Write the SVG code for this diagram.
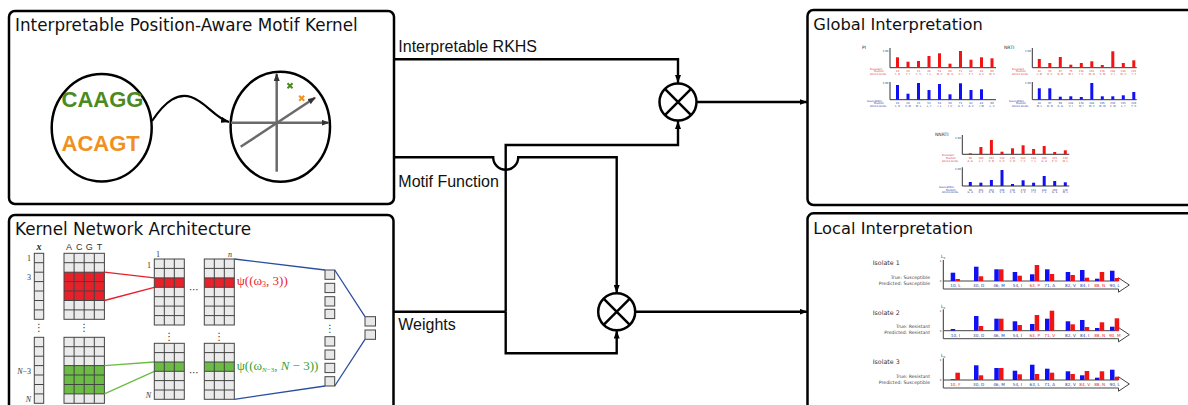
<svg xmlns="http://www.w3.org/2000/svg" width="1188" height="405" viewBox="0 0 1188 405">
<style>
.box{fill:#fff;stroke:#000;stroke-width:2.5}
.title{font-family:"DejaVu Sans",sans-serif;font-size:16.8px;fill:#111}
.title2{font-family:"DejaVu Sans",sans-serif;font-size:16.3px;fill:#111}
.lbl{font-family:"Liberation Sans",Arial,sans-serif;font-size:16px;fill:#111}
.conn{fill:none;stroke:#000;stroke-width:2.4}
.mfill{fill:#ebebeb}
.grid{fill:none;stroke:#444;stroke-width:1}
.sq{fill:#e8e8e8;stroke:#444;stroke-width:1}
.ser{font-family:"Liberation Serif","DejaVu Serif",serif;font-size:8px;fill:#333}
.seri{font-family:"Liberation Serif","DejaVu Serif",serif;font-size:8px;font-style:italic;fill:#333}
.dots{font-family:"DejaVu Sans",sans-serif;font-size:10px;fill:#333;text-anchor:middle}
.ax{fill:none;stroke:#333;stroke-width:1}
.rb{fill:#f21313}
.bb{fill:#1010f5}
.tr{font-family:"DejaVu Sans",sans-serif;font-size:2.6px;fill:#e04040;text-anchor:middle}
.tb{font-family:"DejaVu Sans",sans-serif;font-size:2.6px;fill:#2a40a0;text-anchor:middle}
.trl{font-family:"DejaVu Sans",sans-serif;font-size:2.6px;fill:#e04040;text-anchor:end}
.tbl{font-family:"DejaVu Sans",sans-serif;font-size:2.6px;fill:#2a40a0;text-anchor:end}
.ch{font-family:"DejaVu Sans",sans-serif;font-size:4.5px;fill:#333}
.tk{font-family:"DejaVu Sans",sans-serif;font-size:2.6px;fill:#333;text-anchor:end}
.iso{font-family:"DejaVu Sans",sans-serif;font-size:6.3px;fill:#333}
.tp{font-family:"DejaVu Sans",sans-serif;font-size:4.6px;fill:#444;text-anchor:end}
.bl{font-family:"DejaVu Sans",sans-serif;font-size:4.2px;fill:#2a40a0;text-anchor:middle}
.bl .r{fill:#e03030}
.band{fill:#fff;stroke:#444;stroke-width:1}
</style>
<defs>
<marker id="arr" viewBox="0 0 8 6" refX="8" refY="3" markerWidth="8" markerHeight="6" markerUnits="userSpaceOnUse" orient="auto"><path d="M0,0L8,3L0,6z" fill="#000"/></marker>
<marker id="arrg" viewBox="0 0 8 6" refX="7" refY="3" markerWidth="8" markerHeight="6" markerUnits="userSpaceOnUse" orient="auto"><path d="M0,0L8,3L0,6z" fill="#333"/></marker>
</defs>

<!-- Motif kernel box -->
<g id="motif-kernel">
<rect class="box" x="9" y="11" width="385" height="193" rx="6"/>
<text class="title" x="15" y="31">Interpretable Position-Aware Motif Kernel</text>
<ellipse cx="101.7" cy="127.8" rx="50" ry="53.7" fill="none" stroke="#000" stroke-width="2.5"/>
<text x="61.5" y="106.7" font-family="Liberation Sans,Arial,sans-serif" font-weight="bold" font-size="22" fill="#4b8a1e">CAAGG</text>
<text x="61.5" y="150.7" font-family="Liberation Sans,Arial,sans-serif" font-weight="bold" font-size="22" fill="#f0901e">ACAGT</text>
<path d="M152,121 C166,100 178,93 191,97 C206,102 215,118 229,122" fill="none" stroke="#000" stroke-width="2.2" marker-end="url(#arr)"/>
<ellipse cx="280.3" cy="126.7" rx="49.7" ry="55" fill="none" stroke="#000" stroke-width="2.5"/>
<g stroke="#6a6a6a" stroke-width="2.5" fill="none">
<path d="M276.7,171.7V74" marker-end="url(#arrg)"/>
<path d="M231,122.7H328.5" marker-end="url(#arrg)"/>
<path d="M240.7,146.7L315,97.8" marker-end="url(#arrg)"/>
</g>
<path d="M287.5,83.2l5,5m0,-5l-5,5" stroke="#4b8a1e" stroke-width="2"/>
<path d="M299.2,95.8l5,5m0,-5l-5,5" stroke="#f0901e" stroke-width="2"/>
</g>

<!-- Kernel network box -->
<g id="kernel-network">
<rect class="box" x="9" y="215" width="384.5" height="250" rx="6"/>
<text class="title" x="15" y="235">Kernel Network Architecture</text>
<text x="39" y="250" font-family="Liberation Serif,serif" font-size="10" font-style="italic" font-weight="bold" fill="#222" text-anchor="middle">x</text>
<g font-family="Liberation Sans,Arial,sans-serif" font-size="9" fill="#333" text-anchor="middle">
<text x="69" y="250">A</text><text x="79.2" y="250">C</text><text x="89.3" y="250">G</text><text x="99.4" y="250">T</text>
</g>
<text class="ser" x="31" y="261" text-anchor="end">1</text>
<text class="ser" x="31" y="280" text-anchor="end">3</text>
<text class="seri" x="31" y="373.5" text-anchor="end">N<tspan font-style="normal">−3</tspan></text>
<text class="seri" x="31" y="402" text-anchor="end">N</text>
<!-- x column top -->
<rect class="mfill" x="34.3" y="253.3" width="9.4" height="66"/>
<path class="grid" d="M34.3 262.7h9.4M34.3 272.2h9.4M34.3 281.6h9.4M34.3 291h9.4M34.3 300.5h9.4M34.3 309.9h9.4"/>
<rect class="grid" x="34.3" y="253.3" width="9.4" height="66"/>
<!-- ACGT top -->
<rect class="mfill" x="64" y="253.3" width="40.4" height="66"/>
<rect fill="#e8202a" x="64" y="272.2" width="40.4" height="28.3"/>
<path class="grid" d="M64 262.7h40.4M64 272.2h40.4M64 281.6h40.4M64 291h40.4M64 300.5h40.4M64 309.9h40.4M74.1 253.3v66M84.2 253.3v66M94.3 253.3v66"/>
<rect class="grid" x="64" y="253.3" width="40.4" height="66"/>
<text class="dots" x="39" y="331">⋮</text>
<text class="dots" x="84.2" y="331">⋮</text>
<!-- x column bottom -->
<rect class="mfill" x="34.3" y="337.3" width="9.4" height="66"/>
<path class="grid" d="M34.3 346.7h9.4M34.3 356.2h9.4M34.3 365.6h9.4M34.3 375h9.4M34.3 384.5h9.4M34.3 393.9h9.4"/>
<rect class="grid" x="34.3" y="337.3" width="9.4" height="66"/>
<!-- ACGT bottom -->
<rect class="mfill" x="64" y="337.3" width="40.4" height="66"/>
<rect fill="#6cbb45" x="64" y="365.6" width="40.4" height="28.3"/>
<path class="grid" d="M64 346.7h40.4M64 356.2h40.4M64 365.6h40.4M64 375h40.4M64 384.5h40.4M64 393.9h40.4M74.1 337.3v66M84.2 337.3v66M94.3 337.3v66"/>
<rect class="grid" x="64" y="337.3" width="40.4" height="66"/>
<!-- red/green links -->
<path d="M104.4,272.2L154.3,277.9M104.4,300.5L154.3,287.3" stroke="#e8202a" stroke-width="1.3" fill="none"/>
<path d="M104.4,365.6L154.3,362M104.4,393.9L154.3,371.3" stroke="#6cbb45" stroke-width="1.3" fill="none"/>
<!-- mid top matrices -->
<text class="ser" x="158" y="256.5" text-anchor="middle">1</text>
<text class="ser" x="151" y="268" text-anchor="end">1</text>
<text class="seri" x="230" y="256.5" text-anchor="middle">n</text>
<rect class="mfill" x="154.3" y="259" width="30" height="66"/>
<rect fill="#e8202a" x="154.3" y="277.9" width="30" height="9.4"/>
<path class="grid" d="M154.3 268.4h30M154.3 277.9h30M154.3 287.3h30M154.3 296.7h30M154.3 306.1h30M154.3 315.6h30M164.3 259v66M174.3 259v66"/>
<rect class="grid" x="154.3" y="259" width="30" height="66"/>
<rect class="mfill" x="204.3" y="259" width="30" height="66"/>
<rect fill="#e8202a" x="204.3" y="277.9" width="30" height="9.4"/>
<path class="grid" d="M204.3 268.4h30M204.3 277.9h30M204.3 287.3h30M204.3 296.7h30M204.3 306.1h30M204.3 315.6h30M214.3 259v66M224.3 259v66"/>
<rect class="grid" x="204.3" y="259" width="30" height="66"/>
<text class="dots" x="194" y="293">⋯</text>
<text class="dots" x="169.3" y="340">⋮</text>
<text class="dots" x="219.3" y="340">⋮</text>
<!-- mid bottom matrices -->
<rect class="mfill" x="154.3" y="343.3" width="30" height="56"/>
<rect fill="#6cbb45" x="154.3" y="362" width="30" height="9.3"/>
<path class="grid" d="M154.3 352.6h30M154.3 362h30M154.3 371.3h30M154.3 380.6h30M154.3 390h30M164.3 343.3v56M174.3 343.3v56"/>
<rect class="grid" x="154.3" y="343.3" width="30" height="56"/>
<rect class="mfill" x="204.3" y="343.3" width="30" height="56"/>
<rect fill="#6cbb45" x="204.3" y="362" width="30" height="9.3"/>
<path class="grid" d="M204.3 352.6h30M204.3 362h30M204.3 371.3h30M204.3 380.6h30M204.3 390h30M214.3 343.3v56M224.3 343.3v56"/>
<rect class="grid" x="204.3" y="343.3" width="30" height="56"/>
<text class="dots" x="194" y="376">⋯</text>
<text class="seri" x="151" y="398" text-anchor="end">N</text>
<text x="236.7" y="285" font-family="Liberation Serif,DejaVu Serif,serif" font-size="13" fill="#e8262c">ψ((ω<tspan font-size="8" dy="2">3</tspan><tspan dy="-2">, 3))</tspan></text>
<text x="236.7" y="370" font-family="Liberation Serif,DejaVu Serif,serif" font-size="13" fill="#3aa12e">ψ((ω<tspan font-size="7" dy="2" font-style="italic">N</tspan><tspan font-size="7">−3</tspan><tspan dy="-2">, </tspan><tspan font-style="italic">N</tspan> − 3))</text>
<!-- small squares -->
<rect class="sq" x="325" y="270" width="9.7" height="9.3"/>
<rect class="sq" x="325" y="283.3" width="9.7" height="9.3"/>
<rect class="sq" x="325" y="296.7" width="9.7" height="9.3"/>
<rect class="sq" x="325" y="309.3" width="9.7" height="9.3"/>
<text class="dots" x="330" y="332">⋮</text>
<rect class="sq" x="325" y="336.7" width="9.7" height="9.3"/>
<rect class="sq" x="325" y="350" width="9.7" height="9.3"/>
<rect class="sq" x="325" y="363.3" width="9.7" height="9.3"/>
<rect class="sq" x="325" y="376.7" width="9.7" height="9.3"/>
<rect class="sq" x="365" y="316.7" width="10.5" height="9.3"/>
<rect class="sq" x="365" y="330" width="10.5" height="9.3"/>
<path d="M234.3,259L325,270M334.7,270L365,316.7M334.7,386L365,339.3M234.3,399.3L325,386" stroke="#2b4ea0" stroke-width="1.3" fill="none"/>
</g>

<!-- Multiplication nodes -->
<g id="mult-1">
<circle cx="678" cy="102" r="18.5" fill="#fff" stroke="#000" stroke-width="2.5"/>
<path d="M664.9,88.9L691.1,115.1M691.1,88.9L664.9,115.1" stroke="#000" stroke-width="2.5"/>
</g>
<g id="mult-2">
<circle cx="616.7" cy="311.7" r="18.5" fill="#fff" stroke="#000" stroke-width="2.5"/>
<path d="M603.6,298.6L629.8,324.8M629.8,298.6L603.6,324.8" stroke="#000" stroke-width="2.5"/>
</g>

<!-- Connectors -->
<g id="connectors">
<path class="conn" d="M394,59.3H678V83" marker-end="url(#arr)"/>
<path class="conn" d="M696.5,102H807.5" marker-end="url(#arr)"/>
<path class="conn" d="M394,157.3H493.2A12.5,12.5 0 0 0 518.2,157.3H616.7V293" marker-end="url(#arr)"/>
<path class="conn" d="M394,311.7H505.7"/>
<path class="conn" d="M505.7,311.7V145H678V121" marker-end="url(#arr)"/>
<path class="conn" d="M505.7,311.7V353.3H616.7V330.5" marker-end="url(#arr)"/>
<path class="conn" d="M635.2,311.7H807.5" marker-end="url(#arr)"/>
<text class="lbl" x="398.3" y="51.7">Interpretable RKHS</text>
<text class="lbl" x="398.3" y="186.7">Motif Function</text>
<text class="lbl" x="398.3" y="330">Weights</text>
</g>

<!-- Global interpretation -->
<g id="global-interpretation">
<rect class="box" x="807.5" y="10" width="420" height="195" rx="6"/>
<text class="title2" x="813.3" y="30">Global Interpretation</text>
<!-- PI -->
<text class="ch" x="862" y="49">PI</text>
<path class="ax" d="M890,48V67.7H996M890,82V99.7H996"/>
<text class="tk" x="888.5" y="52">1.00</text><text class="tk" x="888.5" y="84">1.00</text>
<g class="rb">
<rect x="896" y="57.3" width="3" height="10.4"/><rect x="906.5" y="61.7" width="3" height="6"/><rect x="917" y="61" width="3" height="6.7"/><rect x="927.5" y="56" width="3" height="11.7"/><rect x="938" y="53.3" width="3" height="14.4"/><rect x="948.5" y="63.7" width="3" height="4"/><rect x="959" y="51" width="3" height="16.7"/><rect x="969.5" y="59.7" width="3" height="8"/><rect x="980" y="57.3" width="3" height="10.4"/><rect x="990.5" y="58.3" width="3" height="9.4"/>
</g>
<g class="bb">
<rect x="896" y="85" width="3" height="14.7"/><rect x="906.5" y="93.7" width="3" height="6"/><rect x="917" y="83" width="3" height="16.7"/><rect x="927.5" y="90" width="3" height="9.7"/><rect x="938" y="84" width="3" height="15.7"/><rect x="948.5" y="94.3" width="3" height="5.4"/><rect x="959" y="83.3" width="3" height="16.4"/><rect x="969.5" y="90" width="3" height="9.7"/><rect x="980" y="89.3" width="3" height="10.4"/>
</g>
<text class="trl" x="882" y="69.5">Resistant</text><text class="trl" x="884" y="72.3">Position</text><text class="trl" x="886" y="75.1">Amino Acids</text>
<text class="tr" y="72.3"><tspan x="897.5">10</tspan><tspan x="908">20</tspan><tspan x="918.5">33</tspan><tspan x="929">46</tspan><tspan x="939.5">54</tspan><tspan x="950">50</tspan><tspan x="960.5">71</tspan><tspan x="971">82</tspan><tspan x="981.5">84</tspan><tspan x="992">90</tspan></text>
<text class="tr" y="75.1"><tspan x="897.5">F, R</tspan><tspan x="908">T, I</tspan><tspan x="918.5">F, V</tspan><tspan x="929">I, L</tspan><tspan x="939.5">M, V</tspan><tspan x="950">W, A</tspan><tspan x="960.5">V, I</tspan><tspan x="971">T, F</tspan><tspan x="981.5">A, C</tspan><tspan x="992">M, V</tspan></text>
<text class="tbl" x="882" y="101.5">Susceptible</text><text class="tbl" x="884" y="104.3">Position</text><text class="tbl" x="886" y="107.1">Amino Acids</text>
<text class="tb" y="104.3"><tspan x="897.5">10</tspan><tspan x="908">20</tspan><tspan x="918.5">33</tspan><tspan x="929">53</tspan><tspan x="939.5">54</tspan><tspan x="950">50</tspan><tspan x="960.5">71</tspan><tspan x="971">82</tspan><tspan x="981.5">84</tspan><tspan x="992">90</tspan></text>
<text class="tb" y="107.1"><tspan x="897.5">L, R</tspan><tspan x="908">K, M</tspan><tspan x="918.5">M, L</tspan><tspan x="929">L, Y</tspan><tspan x="939.5">I, L</tspan><tspan x="950">I, V</tspan><tspan x="960.5">A, T</tspan><tspan x="971">A, V</tspan><tspan x="981.5">I, M</tspan><tspan x="992">L, V</tspan></text>
<!-- NRTI -->
<text class="ch" x="1004" y="49">NRTI</text>
<path class="ax" d="M1032.3,48V67.7H1136.7M1032.3,82V99.7H1136.7"/>
<text class="tk" x="1030.8" y="52">1.00</text><text class="tk" x="1030.8" y="84">1.00</text>
<g class="rb">
<rect x="1037.8" y="59" width="3" height="8.7"/><rect x="1048.3" y="63" width="3" height="4.7"/><rect x="1058.8" y="57" width="3" height="10.7"/><rect x="1069.3" y="64.7" width="3" height="3"/><rect x="1079.8" y="63" width="3" height="4.7"/><rect x="1090.3" y="61.3" width="3" height="6.4"/><rect x="1100.8" y="65" width="3" height="2.7"/><rect x="1111.3" y="51.3" width="3" height="16.4"/><rect x="1121.8" y="63" width="3" height="4.7"/><rect x="1132.3" y="60.3" width="3" height="7.4"/>
</g>
<g class="bb">
<rect x="1037.8" y="88.3" width="3" height="11.4"/><rect x="1048.3" y="88.3" width="3" height="11.4"/><rect x="1058.8" y="96.7" width="3" height="3"/><rect x="1069.3" y="96.3" width="3" height="3.4"/><rect x="1079.8" y="97" width="3" height="2.7"/><rect x="1090.3" y="83" width="3" height="16.7"/><rect x="1100.8" y="96.3" width="3" height="3.4"/><rect x="1111.3" y="96.3" width="3" height="3.4"/><rect x="1121.8" y="95.3" width="3" height="4.4"/><rect x="1132.3" y="92" width="3" height="7.7"/>
</g>
<text class="trl" x="1024" y="69.5">Resistant</text><text class="trl" x="1026" y="72.3">Position</text><text class="trl" x="1028" y="75.1">Amino Acids</text>
<text class="tr" y="72.3"><tspan x="1039.3">41</tspan><tspan x="1049.8">50</tspan><tspan x="1060.3">67</tspan><tspan x="1070.8">75</tspan><tspan x="1081.3">118</tspan><tspan x="1091.8">151</tspan><tspan x="1102.3">178</tspan><tspan x="1112.8">184</tspan><tspan x="1123.3">210</tspan><tspan x="1133.8">215</tspan></text>
<text class="tr" y="75.1"><tspan x="1039.3">L, M</tspan><tspan x="1049.8">R, V</tspan><tspan x="1060.3">N, D</tspan><tspan x="1070.8">M, I</tspan><tspan x="1081.3">I, V</tspan><tspan x="1091.8">M, Q</tspan><tspan x="1102.3">V, M</tspan><tspan x="1112.8">V, I</tspan><tspan x="1123.3">W, V</tspan><tspan x="1133.8">Y, T</tspan></text>
<text class="tbl" x="1024" y="101.5">Susceptible</text><text class="tbl" x="1026" y="104.3">Position</text><text class="tbl" x="1028" y="107.1">Amino Acids</text>
<text class="tb" y="104.3"><tspan x="1039.3">41</tspan><tspan x="1049.8">67</tspan><tspan x="1060.3">69</tspan><tspan x="1070.8">118</tspan><tspan x="1081.3">178</tspan><tspan x="1091.8">184</tspan><tspan x="1102.3">205</tspan><tspan x="1112.8">210</tspan><tspan x="1123.3">215</tspan><tspan x="1133.8">219</tspan></text>
<text class="tb" y="107.1"><tspan x="1039.3">M, L</tspan><tspan x="1049.8">D, N</tspan><tspan x="1060.3">K, G</tspan><tspan x="1070.8">V, I</tspan><tspan x="1081.3">M, I</tspan><tspan x="1091.8">M, V</tspan><tspan x="1102.3">W, M</tspan><tspan x="1112.8">V, W</tspan><tspan x="1123.3">L, Y</tspan><tspan x="1133.8">T, K</tspan></text>
<!-- NNRTI -->
<text class="ch" x="935" y="136">NNRTI</text>
<path class="ax" d="M962.3,135V154.3H1069.3M962.3,167.3V186H1069.3"/>
<text class="tk" x="960.8" y="139">1.00</text><text class="tk" x="960.8" y="170">1.00</text>
<g class="rb">
<rect x="968.8" y="153.3" width="3" height="1"/><rect x="979.4" y="147" width="3" height="7.3"/><rect x="989.9" y="140" width="3" height="14.3"/><rect x="1000.5" y="151.7" width="3" height="2.6"/><rect x="1011" y="148.3" width="3" height="6"/><rect x="1021.6" y="145.3" width="3" height="9"/><rect x="1032.1" y="149" width="3" height="5.3"/><rect x="1042.7" y="146" width="3" height="8.3"/><rect x="1053.2" y="152" width="3" height="2.3"/><rect x="1063.8" y="150.3" width="3" height="4"/>
</g>
<g class="bb">
<rect x="968.8" y="182" width="3" height="4"/><rect x="979.4" y="182.7" width="3" height="3.3"/><rect x="989.9" y="180" width="3" height="6"/><rect x="1000.5" y="170" width="3" height="16"/><rect x="1011" y="184" width="3" height="2"/><rect x="1021.6" y="180.3" width="3" height="5.7"/><rect x="1032.1" y="182.7" width="3" height="3.3"/><rect x="1042.7" y="176" width="3" height="10"/><rect x="1053.2" y="181" width="3" height="5"/><rect x="1063.8" y="182.3" width="3" height="3.7"/>
</g>
<text class="trl" x="954" y="156">Resistant</text><text class="trl" x="956" y="158.8">Position</text><text class="trl" x="958" y="161.6">Amino Acids</text>
<text class="tr" y="158.8"><tspan x="970.3">98</tspan><tspan x="980.9">100</tspan><tspan x="991.4">103</tspan><tspan x="1002">138</tspan><tspan x="1012.5">179</tspan><tspan x="1023.1">181</tspan><tspan x="1033.6">188</tspan><tspan x="1044.2">190</tspan><tspan x="1054.7">225</tspan><tspan x="1065.3">230</tspan></text>
<text class="tr" y="161.6"><tspan x="970.3">A, G</tspan><tspan x="980.9">L, I</tspan><tspan x="991.4">K, N</tspan><tspan x="1002">E, K</tspan><tspan x="1012.5">V, D</tspan><tspan x="1023.1">Y, C</tspan><tspan x="1033.6">Y, L</tspan><tspan x="1044.2">G, A</tspan><tspan x="1054.7">P, H</tspan><tspan x="1065.3">M, L</tspan></text>
<text class="tbl" x="954" y="187.7">Susceptible</text><text class="tbl" x="956" y="190.5">Position</text><text class="tbl" x="958" y="193.3">Amino Acids</text>
<text class="tb" y="190.5"><tspan x="970.3">98</tspan><tspan x="980.9">101</tspan><tspan x="991.4">103</tspan><tspan x="1002">106</tspan><tspan x="1012.5">138</tspan><tspan x="1023.1">179</tspan><tspan x="1033.6">181</tspan><tspan x="1044.2">188</tspan><tspan x="1054.7">190</tspan><tspan x="1065.3">230</tspan></text>
<text class="tb" y="193.3"><tspan x="970.3">G, A</tspan><tspan x="980.9">K, E</tspan><tspan x="991.4">K, N</tspan><tspan x="1002">V, A</tspan><tspan x="1012.5">E, G</tspan><tspan x="1023.1">V, E</tspan><tspan x="1033.6">Y, C</tspan><tspan x="1044.2">Y, L</tspan><tspan x="1054.7">G, S</tspan><tspan x="1065.3">M, L</tspan></text>
</g>

<!-- Local interpretation -->
<g id="local-interpretation">
<rect class="box" x="807.5" y="213.3" width="420" height="250" rx="6"/>
<text class="title2" x="813.3" y="234">Local Interpretation</text>
<!-- Isolate 1 -->
<text class="iso" x="872.7" y="265">Isolate 1</text>
<text class="tp" x="930" y="279">True: Susceptible</text>
<text class="tp" x="930" y="284.7">Predicted: Susceptible</text>
<path class="ax" d="M943.3,260V281"/>
<text class="tk" x="941.5" y="262" font-size="3.5">1</text><text class="tk" x="941.5" y="282" font-size="3.5">0</text>
<text class="ch" x="941" y="258" font-size="4">L<tspan font-size="2.6" dy="1">0</tspan></text>
<path class="band" d="M943.3,281H1118.5V277.8L1129.3,285L1118.5,292.2V289H943.3Z"/>
<g class="bb"><rect x="950.7" y="272.7" width="4.5" height="8.3"/><rect x="974" y="266.7" width="4.5" height="14.3"/><rect x="994.3" y="269.3" width="4.5" height="11.7"/><rect x="1012.7" y="272" width="4.5" height="9"/><rect x="1030" y="274.3" width="4.5" height="6.7"/><rect x="1045" y="269.3" width="4.5" height="11.7"/><rect x="1065.7" y="272" width="4.5" height="9"/><rect x="1080" y="270" width="4.5" height="11"/><rect x="1095" y="278.7" width="4.5" height="2.3"/><rect x="1110" y="270.7" width="4.5" height="10.3"/></g>
<g class="rb"><rect x="955.4" y="279" width="4.5" height="2"/><rect x="978.7" y="276.3" width="4.5" height="4.7"/><rect x="999" y="269.3" width="4.5" height="11.7"/><rect x="1017.4" y="275.7" width="4.5" height="5.3"/><rect x="1034.7" y="265" width="4.5" height="16"/><rect x="1049.7" y="274" width="4.5" height="7"/><rect x="1070.4" y="275" width="4.5" height="6"/><rect x="1084.7" y="277.7" width="4.5" height="3.3"/><rect x="1099.7" y="272" width="4.5" height="9"/><rect x="1114.7" y="278" width="4.5" height="3"/></g>
<text class="bl" y="287"><tspan x="955.4">10, L</tspan><tspan x="978.7">30, D</tspan><tspan x="999">46, M</tspan><tspan x="1017.4">54, I</tspan><tspan class="r" x="1034.7">63, P</tspan><tspan x="1049.7">71, A</tspan><tspan x="1070.4">82, V</tspan><tspan x="1084.7">84, I</tspan><tspan class="r" x="1099.7">88, N</tspan><tspan x="1114.7">90, L</tspan></text>
<!-- Isolate 2 -->
<text class="iso" x="872.7" y="315">Isolate 2</text>
<text class="tp" x="930" y="328.3">True: Resistant</text>
<text class="tp" x="930" y="334">Predicted: Resistant</text>
<path class="ax" d="M943.3,309.3V330.7"/>
<text class="tk" x="941.5" y="311.5" font-size="3.5">1</text><text class="tk" x="941.5" y="331.7" font-size="3.5">0</text>
<text class="ch" x="941" y="307.5" font-size="4">L<tspan font-size="2.6" dy="1">0</tspan></text>
<path class="band" d="M943.3,330.7H1118.5V327.5L1129.3,334.7L1118.5,341.9V338.7H943.3Z"/>
<g class="bb"><rect x="950.7" y="329" width="4.5" height="1.7"/><rect x="974" y="316" width="4.5" height="14.7"/><rect x="994.3" y="318.7" width="4.5" height="12"/><rect x="1012.7" y="321.3" width="4.5" height="9.4"/><rect x="1030" y="324" width="4.5" height="6.7"/><rect x="1045" y="318.7" width="4.5" height="12"/><rect x="1065.7" y="321.3" width="4.5" height="9.4"/><rect x="1080" y="320" width="4.5" height="10.7"/><rect x="1095" y="328" width="4.5" height="2.7"/><rect x="1110" y="326.7" width="4.5" height="4"/></g>
<g class="rb"><rect x="978.7" y="326" width="4.5" height="4.7"/><rect x="999" y="318.7" width="4.5" height="12"/><rect x="1017.4" y="325" width="4.5" height="5.7"/><rect x="1034.7" y="315" width="4.5" height="15.7"/><rect x="1049.7" y="310.7" width="4.5" height="20"/><rect x="1070.4" y="324.3" width="4.5" height="6.4"/><rect x="1084.7" y="327" width="4.5" height="3.7"/><rect x="1099.7" y="322.3" width="4.5" height="8.4"/><rect x="1114.7" y="318.3" width="4.5" height="12.4"/></g>
<text class="bl" y="336.7"><tspan x="955.4">10, I</tspan><tspan x="978.7">30, D</tspan><tspan x="999">46, M</tspan><tspan x="1017.4">54, I</tspan><tspan class="r" x="1034.7">63, P</tspan><tspan class="r" x="1049.7">71, V</tspan><tspan x="1070.4">82, V</tspan><tspan x="1084.7">84, I</tspan><tspan class="r" x="1099.7">88, N</tspan><tspan class="r" x="1114.7">90, M</tspan></text>
<!-- Isolate 3 -->
<text class="iso" x="872.7" y="364">Isolate 3</text>
<text class="tp" x="930" y="377.7">True: Resistant</text>
<text class="tp" x="930" y="383.7">Predicted: Susceptible</text>
<path class="ax" d="M943.3,358.3V380"/>
<text class="tk" x="941.5" y="360.5" font-size="3.5">1</text><text class="tk" x="941.5" y="381" font-size="3.5">0</text>
<text class="ch" x="941" y="356.5" font-size="4">L<tspan font-size="2.6" dy="1">0</tspan></text>
<path class="band" d="M943.3,380H1118.5V376.8L1129.3,384L1118.5,391.2V388H943.3Z"/>
<g class="bb"><rect x="950.7" y="379.3" width="4.5" height="0.7"/><rect x="974" y="365.3" width="4.5" height="14.7"/><rect x="994.3" y="368" width="4.5" height="12"/><rect x="1012.7" y="370.7" width="4.5" height="9.3"/><rect x="1030" y="364.7" width="4.5" height="15.3"/><rect x="1045" y="368.7" width="4.5" height="11.3"/><rect x="1065.7" y="371.3" width="4.5" height="8.7"/><rect x="1080" y="375.3" width="4.5" height="4.7"/><rect x="1095" y="377.7" width="4.5" height="2.3"/><rect x="1110" y="369.7" width="4.5" height="10.3"/></g>
<g class="rb"><rect x="955.4" y="372.7" width="4.5" height="7.3"/><rect x="978.7" y="375.3" width="4.5" height="4.7"/><rect x="999" y="368" width="4.5" height="12"/><rect x="1017.4" y="374.3" width="4.5" height="5.7"/><rect x="1034.7" y="374" width="4.5" height="6"/><rect x="1049.7" y="372.7" width="4.5" height="7.3"/><rect x="1070.4" y="374" width="4.5" height="6"/><rect x="1084.7" y="371" width="4.5" height="9"/><rect x="1099.7" y="371.3" width="4.5" height="8.7"/><rect x="1114.7" y="376.7" width="4.5" height="3.3"/></g>
<text class="bl" y="386"><tspan class="r" x="955.4">10, F</tspan><tspan x="978.7">30, D</tspan><tspan x="999">46, M</tspan><tspan x="1017.4">54, I</tspan><tspan x="1034.7">63, L</tspan><tspan x="1049.7">71, A</tspan><tspan x="1070.4">82, V</tspan><tspan class="r" x="1084.7">84, V</tspan><tspan class="r" x="1099.7">88, N</tspan><tspan x="1114.7">90, L</tspan></text>
</g>
</svg>
